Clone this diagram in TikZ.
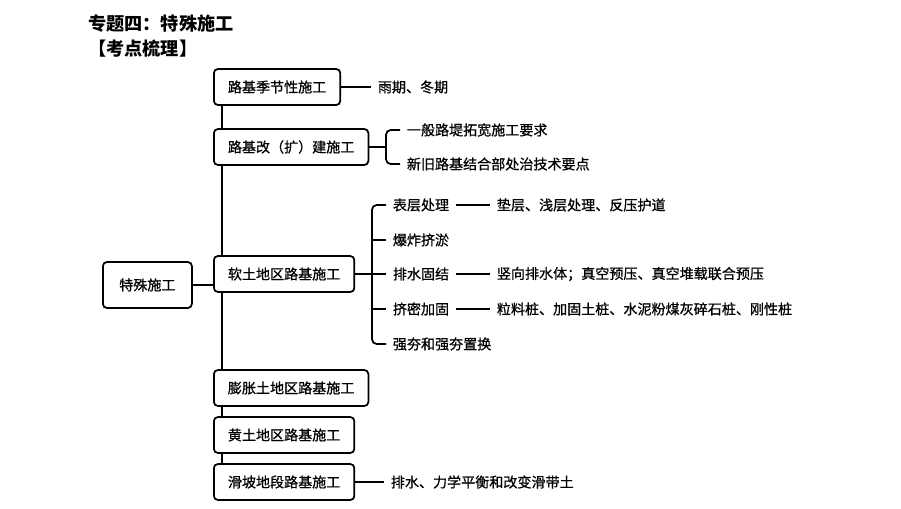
\documentclass[tikz,border=0pt]{standalone}
\usepackage{fontspec}
\setmainfont{Noto Sans CJK SC}
\newfontfamily\heavy{Noto Sans CJK SC}[FakeBold=0.8]
\usetikzlibrary{positioning}
\tikzset{
  box/.style   = {rectangle, draw, rounded corners=3.5pt, line width=1.5pt, fill=white, minimum height=1.08cm, inner xsep=0.42cm, font=\fontsize{12}{14}\selectfont\heavy, anchor=west},
  leaf/.style  = {inner xsep=0.2cm, inner ysep=0pt, font=\fontsize{12}{14}\selectfont\heavy, anchor=west},
  link/.style  = {line width=1.5pt},
  brace/.style = {link, rounded corners=4pt},
  tit/.style   = {inner sep=0pt, font=\fontsize{15.5}{18}\selectfont\bfseries, anchor=west}
}

\begin{document}
\begin{tikzpicture}[x=0.03cm, y=-0.03cm]
  \useasboundingbox (0,0) rectangle (901,509);
  \node[tit] (t1) at (88,24) {专题四：特殊施工};
  \node[tit] (t2) at (88,49) {【考点梳理】};
  % boxes
  \node[box, minimum width=2.67cm, minimum height=1.38cm] (root) at (102,285) {特殊施工};
  \node[box] (js) at (213,87)  {路基季节性施工};
  \node[box] (gk) at (213,147) {路基改（扩）建施工};
  \node[box] (rt) at (213,274) {软土地区路基施工};
  \node[box] (pz) at (213,388) {膨胀土地区路基施工};
  \node[box] (ht) at (213,435) {黄土地区路基施工};
  \node[box] (hp) at (213,482) {滑坡地段路基施工};
  \foreach \a/\b in {js/gk, gk/rt, rt/pz, pz/ht, ht/hp}
    \draw[link] ([xshift=0.27cm]\a.south west) -- ([xshift=0.27cm]\b.north west);
  \draw[link] (root) -- (root -| rt.west);
  % leaves
  \node[leaf] (yq) at (371,87) {雨期、冬期};  \draw[link] (js) -- (yq);
  \coordinate (gkb) at (386,147);
  \node[leaf] (tk) at (400,130) {一般路堤拓宽施工要求};
  \node[leaf] (xj) at (400,164) {新旧路基结合部处治技术要点};
  \draw[link] (gk) -- (gkb); \draw[brace] (tk.west) -| (gkb) |- (xj.west);
  \coordinate (rtb) at (372,274);
  \node[leaf] (bc) at (386,205) {表层处理};
  \node[leaf] (bz) at (386,240) {爆炸挤淤};
  \node[leaf] (pg) at (386,274) {排水固结};
  \node[leaf] (jm) at (386,309) {挤密加固};
  \node[leaf] (qh) at (386,344) {强夯和强夯置换};
  \draw[link] (rt) -- (rtb); \draw[brace] (bc.west) -| (rtb) |- (qh.west);
  \foreach \n in {bz,pg,jm} \draw[link] (\n.west) -- (\n.west -| rtb);
  \node[leaf] (bcx) at (490,205) {垫层、浅层处理、反压护道};               \draw[link] (bc) -- (bcx);
  \node[leaf] (pgx) at (490,274) {竖向排水体；真空预压、真空堆载联合预压}; \draw[link] (pg) -- (pgx);
  \node[leaf] (jmx) at (490,309) {粒料桩、加固土桩、水泥粉煤灰碎石桩、刚性桩}; \draw[link] (jm) -- (jmx);
  \node[leaf] (hpx) at (384,482) {排水、力学平衡和改变滑带土};           \draw[link] (hp) -- (hpx);
\end{tikzpicture}
\end{document}
